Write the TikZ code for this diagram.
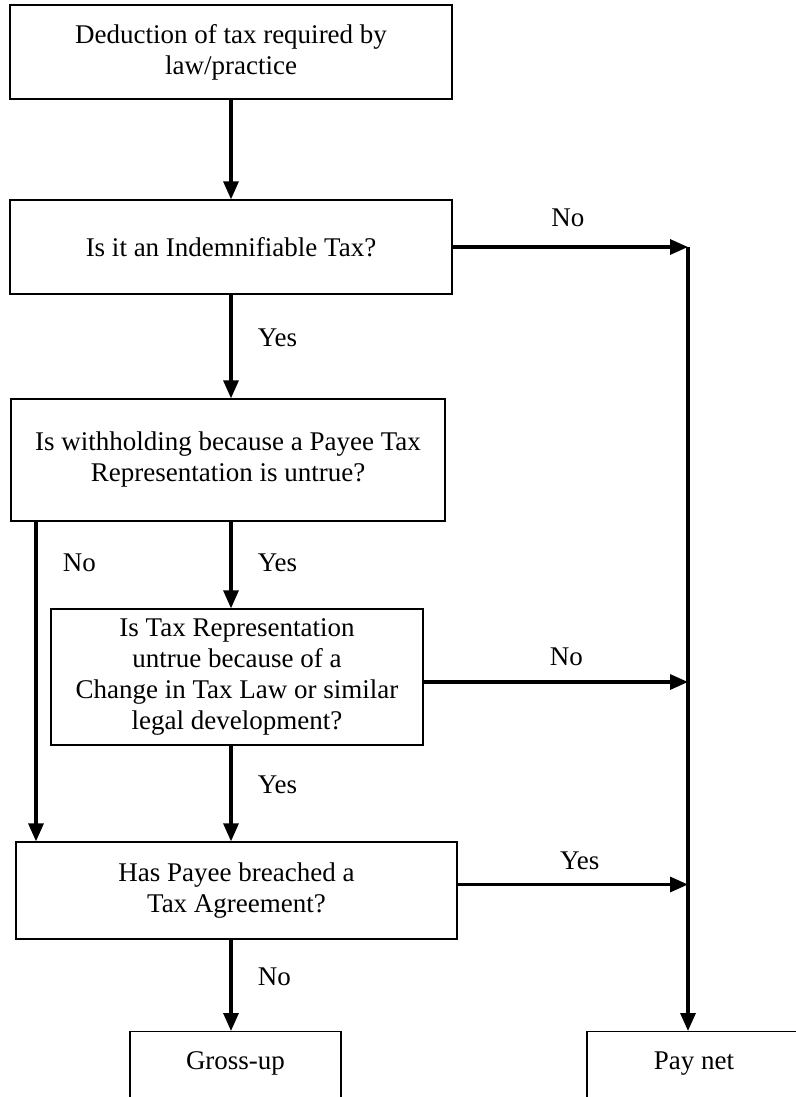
\documentclass[tikz,border=0pt]{standalone}
\usepackage{fontspec}
\setmainfont{Liberation Serif}
\usetikzlibrary{arrows.meta}

\begin{document}
\begin{tikzpicture}[x=1pt,y=-1pt,
	box/.style={shape=rectangle,draw=black,line width=1.3pt,inner sep=0pt,align=center,font=\fontsize{27pt}{31pt}\selectfont},
	endbox/.style={shape=rectangle,draw=black,line width=1.3pt,inner xsep=0pt,inner ysep=0pt,anchor=north,text height=38pt,text depth=80pt,font=\fontsize{27pt}{31pt}\selectfont},
	flow/.style={line width=3.2pt,-{Triangle[length=18pt,width=15pt]}},
	lbl/.style={font=\fontsize{27pt}{31pt}\selectfont}]
	\useasboundingbox (0,0) rectangle (795,1097);

	\node[box,minimum width=442pt,minimum height=94pt] (q0) at (231,52)     {Deduction of tax required by\\law/practice};
	\node[box,minimum width=442pt,minimum height=94pt] (q1) at (231,247)     {Is it an Indemnifiable Tax?};
	\node[box,minimum width=434pt,minimum height=122pt] (q2) at (228,460)     {Is withholding because a Payee Tax\\Representation is untrue?};
	\node[box,minimum width=372pt,minimum height=136pt] (q3) at (237,677)     {Is Tax Representation\\untrue because of a\\Change in Tax Law or similar\\legal development?};
	\node[box,minimum width=441pt,minimum height=97pt] (q4) at (236.5,890.5)     {Has Payee breached a\\Tax Agreement?};
	\node[endbox,minimum width=211pt] (gu) at (235.5,1031)     {Gross-up};
	\node[endbox,minimum width=214pt] (pn) at (694,1031)     {Pay net};

	% trunk lines: middle, right and left
	\coordinate (cl) at (231,0);
	\coordinate (rl) at (688,0);
	\coordinate (ll) at (36,0);
	\coordinate (j1) at (q1.east -| rl);
	\coordinate (j2) at ([yshift=-5pt]q3.east -| rl);
	\coordinate (j3) at ([yshift=6pt]q4.east -| rl);
	\coordinate (l1) at (q2.south -| ll);

	\path[flow] (q0.south -| cl) edge (q1.north -| cl);
	\path[flow] (q1.south -| cl) edge node[lbl,right=22pt,pos=.42]{Yes} (q2.north -| cl);
	\path[flow] (q1.east) edge node[lbl,above=15pt,pos=.49]{No} (j1);
	\path[flow] (q2.south -| cl) edge node[lbl,right=22pt,pos=.48]{Yes} (q3.north -| cl);
	\path[flow] (l1) edge node[lbl,right=22pt,pos=.13]{No} (l1 |- q4.north);
	\path[flow] ([yshift=-5pt]q3.east) edge node[lbl,above=11pt,pos=.54]{No} (j2);
	\path[flow] (q3.south -| cl) edge node[lbl,right=22pt,pos=.41]{Yes} (q4.north -| cl);
	\path[flow] ([yshift=6pt]q4.east) edge node[lbl,above=10pt,pos=.53]{Yes} (j3);
	\path[flow] (q4.south -| cl) edge node[lbl,right=22pt,pos=.41]{No} (gu.north -| cl);
	\path[flow] (j1) edge (j1 |- pn.north);

\end{tikzpicture}
\end{document}
